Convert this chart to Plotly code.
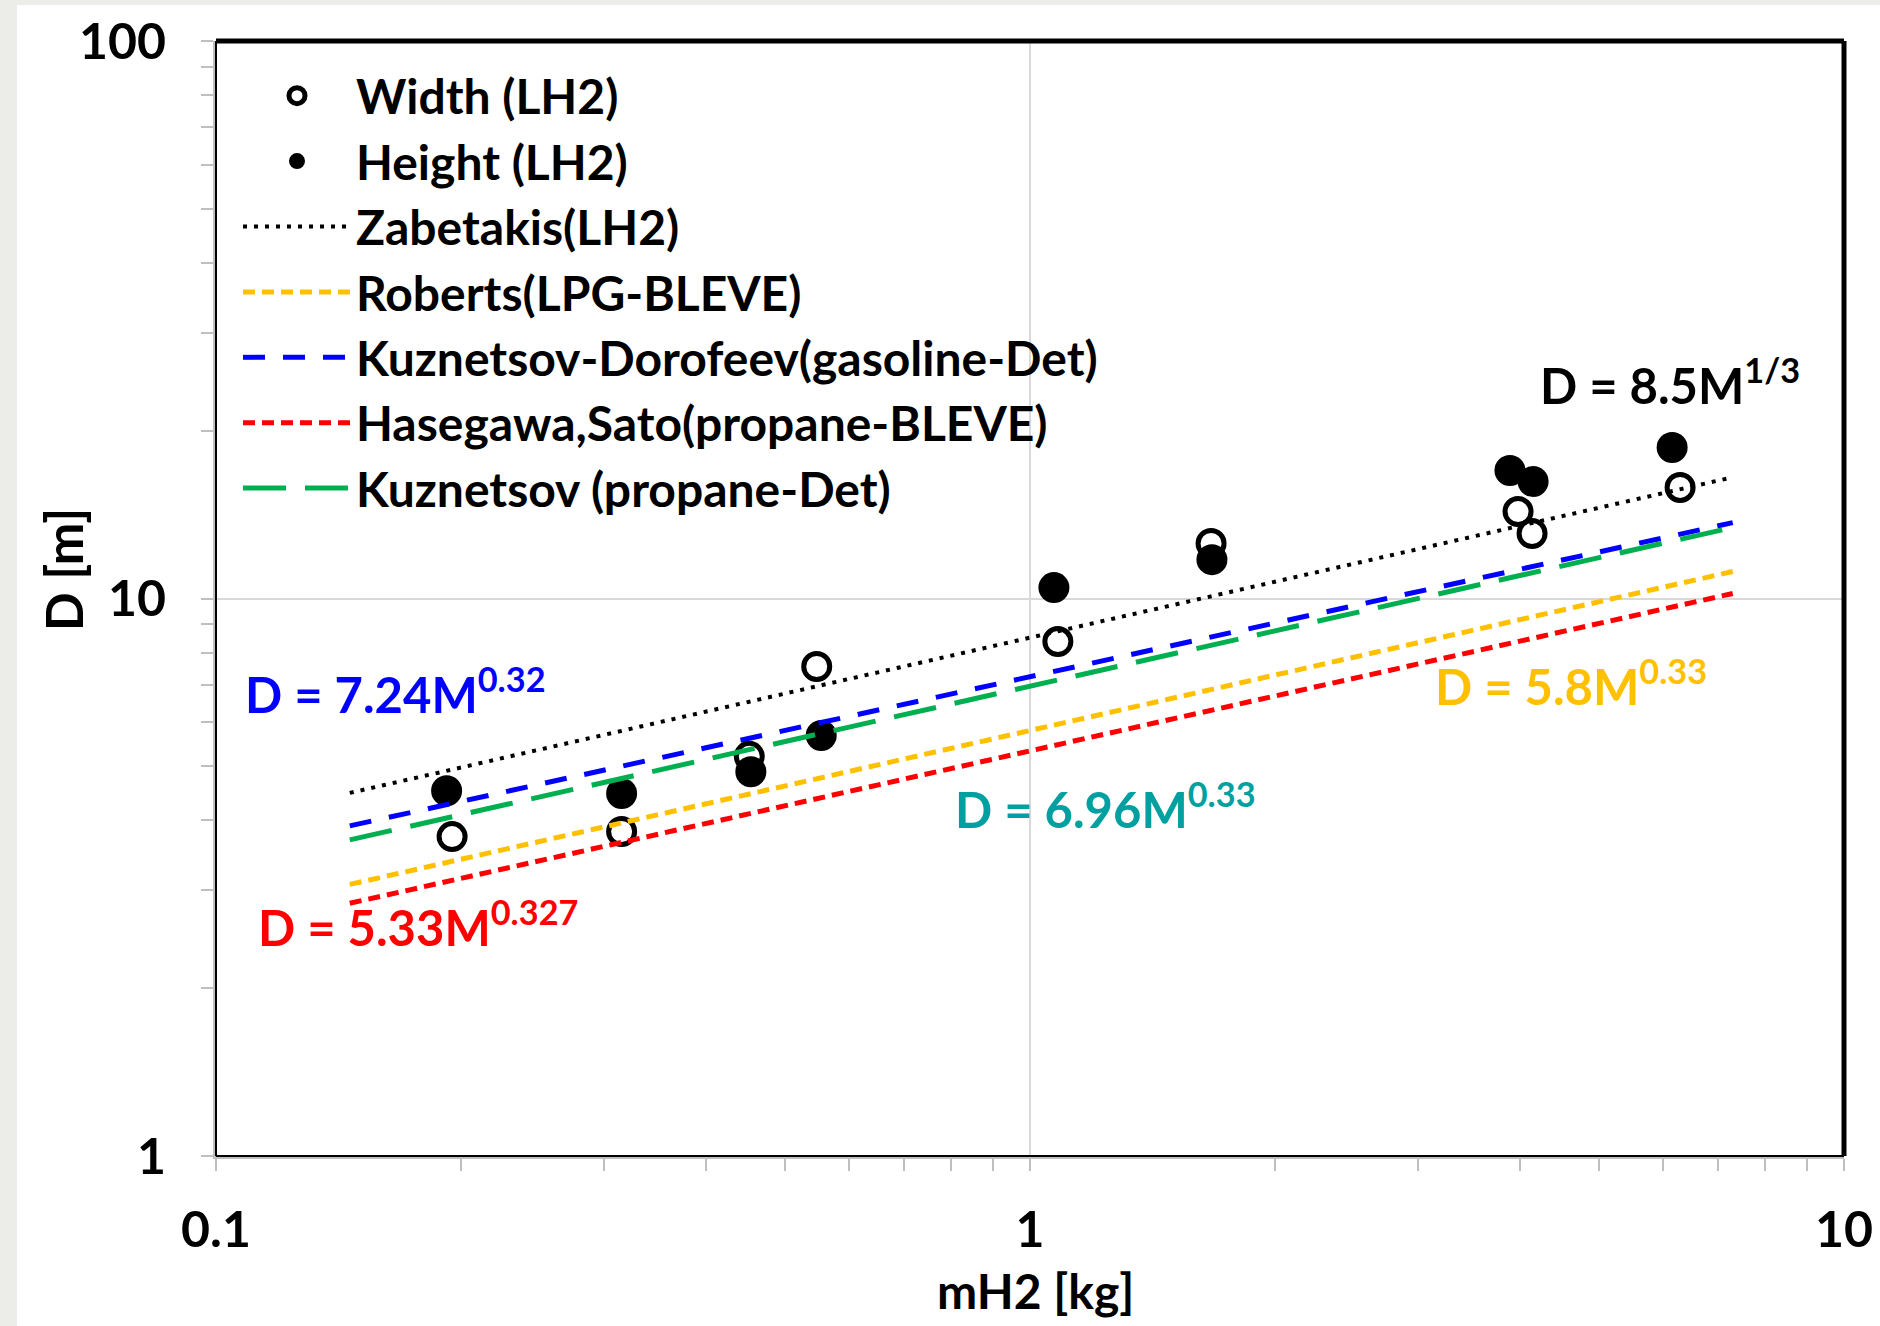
import plotly.graph_objects as go

# ---------------- data ----------------
mass_width = [0.195, 0.315, 0.452, 0.547, 1.082, 1.669, 3.977, 4.138, 6.29]
width_lh2 = [3.74, 3.82, 5.21, 7.55, 8.37, 12.55, 14.32, 13.08, 15.82]

mass_height = [0.192, 0.315, 0.454, 0.554, 1.070, 1.673, 3.887, 4.150, 6.15]
height_lh2 = [4.52, 4.47, 4.89, 5.68, 10.46, 11.74, 16.97, 16.21, 18.66]

corr_mass = [0.146, 7.3]
zabetakis = [4.48, 16.5]
roberts = [3.07, 11.18]
kuz_dorofeev = [3.91, 13.68]
hasegawa_sato = [2.84, 10.21]
kuznetsov = [3.69, 13.41]

x_tickvals = [0.1, 1, 10]
x_ticktext = ["0.1", "1", "10"]
y_tickvals = [1, 10, 100]
y_ticktext = ["1", "10", "100"]

FONT = "Lato"
W, H = 1880, 1326
ML, MR, MT, MB = 216, 36, 41, 170
PW, PH = W - ML - MR, H - MT - MB


def px(x):
    return (x - ML) / PW


def py(y):
    return (H - MB - y) / PH


fig = go.Figure()

fig.add_trace(go.Scatter(
    x=mass_width, y=width_lh2, mode="markers", name="Width (LH2)",
    marker=dict(symbol="circle", size=26, color="white",
                line=dict(color="black", width=5)),
))
fig.add_trace(go.Scatter(
    x=mass_height, y=height_lh2, mode="markers", name="Height (LH2)",
    marker=dict(symbol="circle", size=31, color="black",
                line=dict(color="black", width=0)),
))

lines = [
    ("Zabetakis(LH2)", zabetakis, "black", 4, "4px,7px"),
    ("Roberts(LPG-BLEVE)", roberts, "#FFC000", 5, "12px,7px"),
    ("Kuznetsov-Dorofeev(gasoline-Det)", kuz_dorofeev, "#0000FF", 5, "22px,18px"),
    ("Hasegawa,Sato(propane-BLEVE)", hasegawa_sato, "#FF0000", 5, "12px,7px"),
    ("Kuznetsov (propane-Det)", kuznetsov, "#00B050", 5, "43px,19px"),
]
for name, vals, col, wd, dash in lines:
    fig.add_trace(go.Scatter(
        x=corr_mass, y=vals, mode="lines", name=name,
        line=dict(color=col, width=wd, dash=dash),
    ))

ann_font = dict(family=FONT, size=49, weight="bold")
annots = [
    ("D = 8.5M<sup>1/3</sup>", "black", 1538, 382),
    ("D = 7.24M<sup>0.32</sup>", "#0000FF", 243, 690),
    ("D = 5.33M<sup>0.327</sup>", "#FF0000", 256, 923),
    ("D = 6.96M<sup>0.33</sup>", "#00A0A0", 953, 805),
    ("D = 5.8M<sup>0.33</sup>", "#FFC000", 1433, 682),
]
for txt, col, xp, yp in annots:
    fig.add_annotation(
        text=txt, x=px(xp), y=py(yp), xref="paper", yref="paper",
        xanchor="left", yanchor="middle", showarrow=False,
        font=dict(ann_font, color=col),
    )

# axis titles (placed as labels next to the axes)
title_font = dict(family=FONT, size=51, color="black", weight="bold")
fig.add_annotation(
    text="D [m]", x=px(64), y=py(570), xref="paper", yref="paper",
    xanchor="center", yanchor="middle", textangle=-90, showarrow=False,
    font=title_font,
)
fig.add_annotation(
    text="mH2 [kg]", x=px(1035), y=py(1290), xref="paper", yref="paper",
    xanchor="center", yanchor="middle", showarrow=False,
    font=dict(title_font, size=48),
)

# outer grey strips of the screenshot
fig.add_shape(type="rect", xref="paper", yref="paper", layer="below",
              x0=px(0), x1=px(17), y0=py(H), y1=py(0),
              fillcolor="#ECECE8", line=dict(width=0))
fig.add_shape(type="rect", xref="paper", yref="paper", layer="below",
              x0=px(0), x1=px(W), y0=py(5), y1=py(0),
              fillcolor="#ECECE8", line=dict(width=0))

# plot-area border
fig.add_shape(type="line", xref="x domain", yref="y domain",
              x0=0, x1=1, y0=1, y1=1, line=dict(color="black", width=5))
fig.add_shape(type="line", xref="x domain", yref="y domain",
              x0=1, x1=1, y0=0, y1=1, line=dict(color="black", width=5))
fig.add_shape(type="line", xref="x domain", yref="y domain",
              x0=0, x1=0, y0=0, y1=1, line=dict(color="black", width=2))
fig.add_shape(type="line", xref="x domain", yref="y domain",
              x0=0, x1=1, y0=0, y1=0, line=dict(color="black", width=2))

tick_font = dict(family=FONT, size=50, color="black", weight="bold")
axis_common = dict(
    type="log", showgrid=True, gridcolor="#D9D9D9", gridwidth=2,
    zeroline=False, showline=True, linecolor="#BFBFBF", linewidth=3,
    ticks="outside", ticklen=12, tickcolor="#BFBFBF", tickwidth=2,
    tickfont=tick_font,
    minor=dict(ticks="outside", ticklen=12, tickcolor="#BFBFBF",
               tickwidth=2, dtick="D1", showgrid=False),
)

fig.update_xaxes(
    axis_common, range=[-1, 1], tickvals=x_tickvals, ticktext=x_ticktext,
    ticklabelstandoff=16,
)
fig.update_yaxes(
    axis_common, range=[0, 2], tickvals=y_tickvals, ticktext=y_ticktext,
    ticklabelstandoff=25,
)

fig.update_layout(
    width=W, height=H,
    margin=dict(l=ML, r=MR, t=MT, b=MB, autoexpand=False),
    paper_bgcolor="white", plot_bgcolor="white",
    font=dict(family=FONT, color="black"),
    showlegend=True,
    legend=dict(
        x=px(238), y=py(58), xanchor="left", yanchor="top",
        bgcolor="rgba(0,0,0,0)", borderwidth=0,
        font=dict(family=FONT, size=48, color="black", weight="bold"),
        itemwidth=108, tracegroupgap=0,
    ),
)

fig.write_html("out.html")
